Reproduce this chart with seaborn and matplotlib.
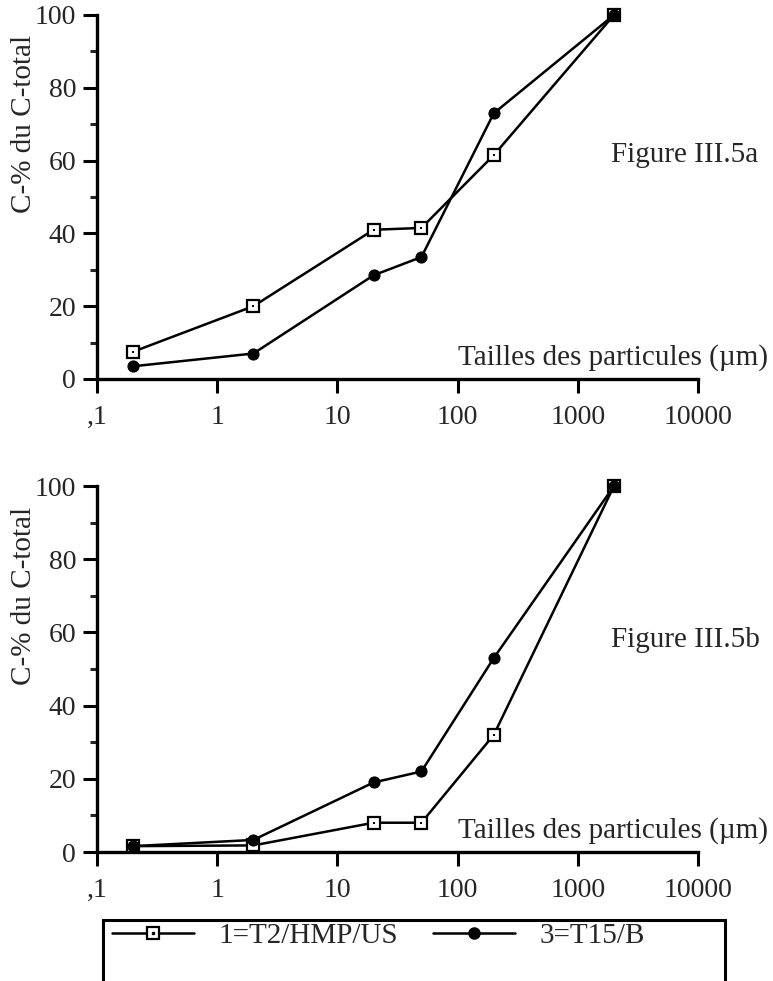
import numpy as np
import pandas as pd
import seaborn as sns
import matplotlib.pyplot as plt
from matplotlib.lines import Line2D
from matplotlib.patches import Rectangle
from matplotlib.legend_handler import HandlerTuple

# ------------ DATA ------------
sizes = [0.2, 2, 20, 50, 200, 2000]   # particle size (um)
tick_vals = [0.1, 1, 10, 100, 1000, 10000]
tick_labels = [",1", "1", "10", "100", "1000", "10000"]

# Figure III.5a
a_t2 = [7.5, 20, 41, 41.5, 61.5, 100]
a_t15 = [3.5, 7, 28.5, 33.5, 73, 100]
# Figure III.5b
b_t2 = [1.6, 1.8, 8, 8, 32, 100]
b_t15 = [1.6, 3.3, 19, 22, 53, 100]

name_t2 = "1=T2/HMP/US"
name_t15 = "3=T15/B"
# ------------------------------

sns.set_style("ticks")
plt.rcParams["font.family"] = ["Liberation Serif", "DejaVu Serif"]
FS = 21
TICK_FS = 20
LW = 1.8

fig = plt.figure(figsize=(7.73, 9.81), dpi=100)
W, H = 773, 981

panels = [
    (a_t2, a_t15, "Figure III.5a", (97, 15, 698, 379), 0.615),
    (b_t2, b_t15, "Figure III.5b", (97, 486, 698, 852), 0.579),
]

for t2, t15, title, (x0, y0, x1, y1), fig_y in panels:
    ax = fig.add_axes([x0 / W, 1 - y1 / H, (x1 - x0) / W, (y1 - y0) / H])
    df = pd.DataFrame({"size": sizes, "t2": t2, "t15": t15})

    sns.lineplot(data=df, x="size", y="t2", ax=ax, color="black", lw=LW,
                 marker="s", markersize=8, markerfacecolor="white",
                 markeredgecolor="black", markeredgewidth=1.6, clip_on=False)
    sns.scatterplot(data=df, x="size", y="t2", ax=ax, marker="s", s=3,
                    color="black", linewidth=0, clip_on=False, zorder=3)
    sns.lineplot(data=df, x="size", y="t15", ax=ax, color="black", lw=LW,
                 marker="o", markersize=8, markerfacecolor="black",
                 markeredgecolor="black", clip_on=False, zorder=4)

    ax.set_xscale("log")
    ax.set_xlim(0.1, 10000)
    ax.set_ylim(0, 100)
    ax.set_xticks(tick_vals)
    ax.set_xticklabels(tick_labels)
    ax.xaxis.set_minor_locator(plt.NullLocator())
    ax.set_yticks([0, 20, 40, 60, 80, 100])
    ax.set_yticks([10, 30, 50, 70, 90], minor=True)
    ax.tick_params(axis="both", which="major", labelsize=TICK_FS, width=2.2,
                   length=10, direction="out", color="black")
    ax.tick_params(axis="x", which="major", pad=9)
    ax.tick_params(axis="y", which="major", pad=5)
    ax.tick_params(axis="y", which="minor", width=2.2, length=5, direction="out")
    sns.despine(ax=ax)
    for s in ["left", "bottom"]:
        ax.spines[s].set_linewidth(2.4)
        ax.spines[s].set_color("black")

    ax.set_xlabel("")
    ax.set_ylabel("C-% du C-total", fontsize=FS)
    ax.yaxis.set_label_coords(-0.10, 0.70)

    ax.text(1.117, 0.058, "Tailles des particules (\u00b5m)", transform=ax.transAxes,
            ha="right", va="center", fontsize=FS)
    ax.text(0.855, fig_y, title, transform=ax.transAxes,
            ha="left", va="center", fontsize=FS)

# legend box (runs off the bottom edge like the scan)
fig.add_artist(Rectangle((103 / W, 1 - 1000 / H), (725 - 103) / W, 80 / H,
                         transform=fig.transFigure, fill=False,
                         edgecolor="black", linewidth=2.2))

h_t2 = (Line2D([], [], color="black", lw=LW, marker="s", markersize=8,
               markerfacecolor="white", markeredgewidth=1.6),
        Line2D([], [], ls="", color="black", marker="s", markersize=1.8))
h_t15 = Line2D([], [], color="black", lw=LW, marker="o", markersize=8)
fig.legend([h_t2, h_t15], [name_t2, name_t15], ncol=2,
           handler_map={tuple: HandlerTuple(ndivide=1)},
           loc="upper left", bbox_to_anchor=(112 / W, 1 - 923 / H),
           fontsize=FS, frameon=False,
           handlelength=2.8, columnspacing=1.2, handletextpad=0.85,
           borderpad=0, borderaxespad=0)

plt.savefig("out.png", dpi=100, facecolor="white")
